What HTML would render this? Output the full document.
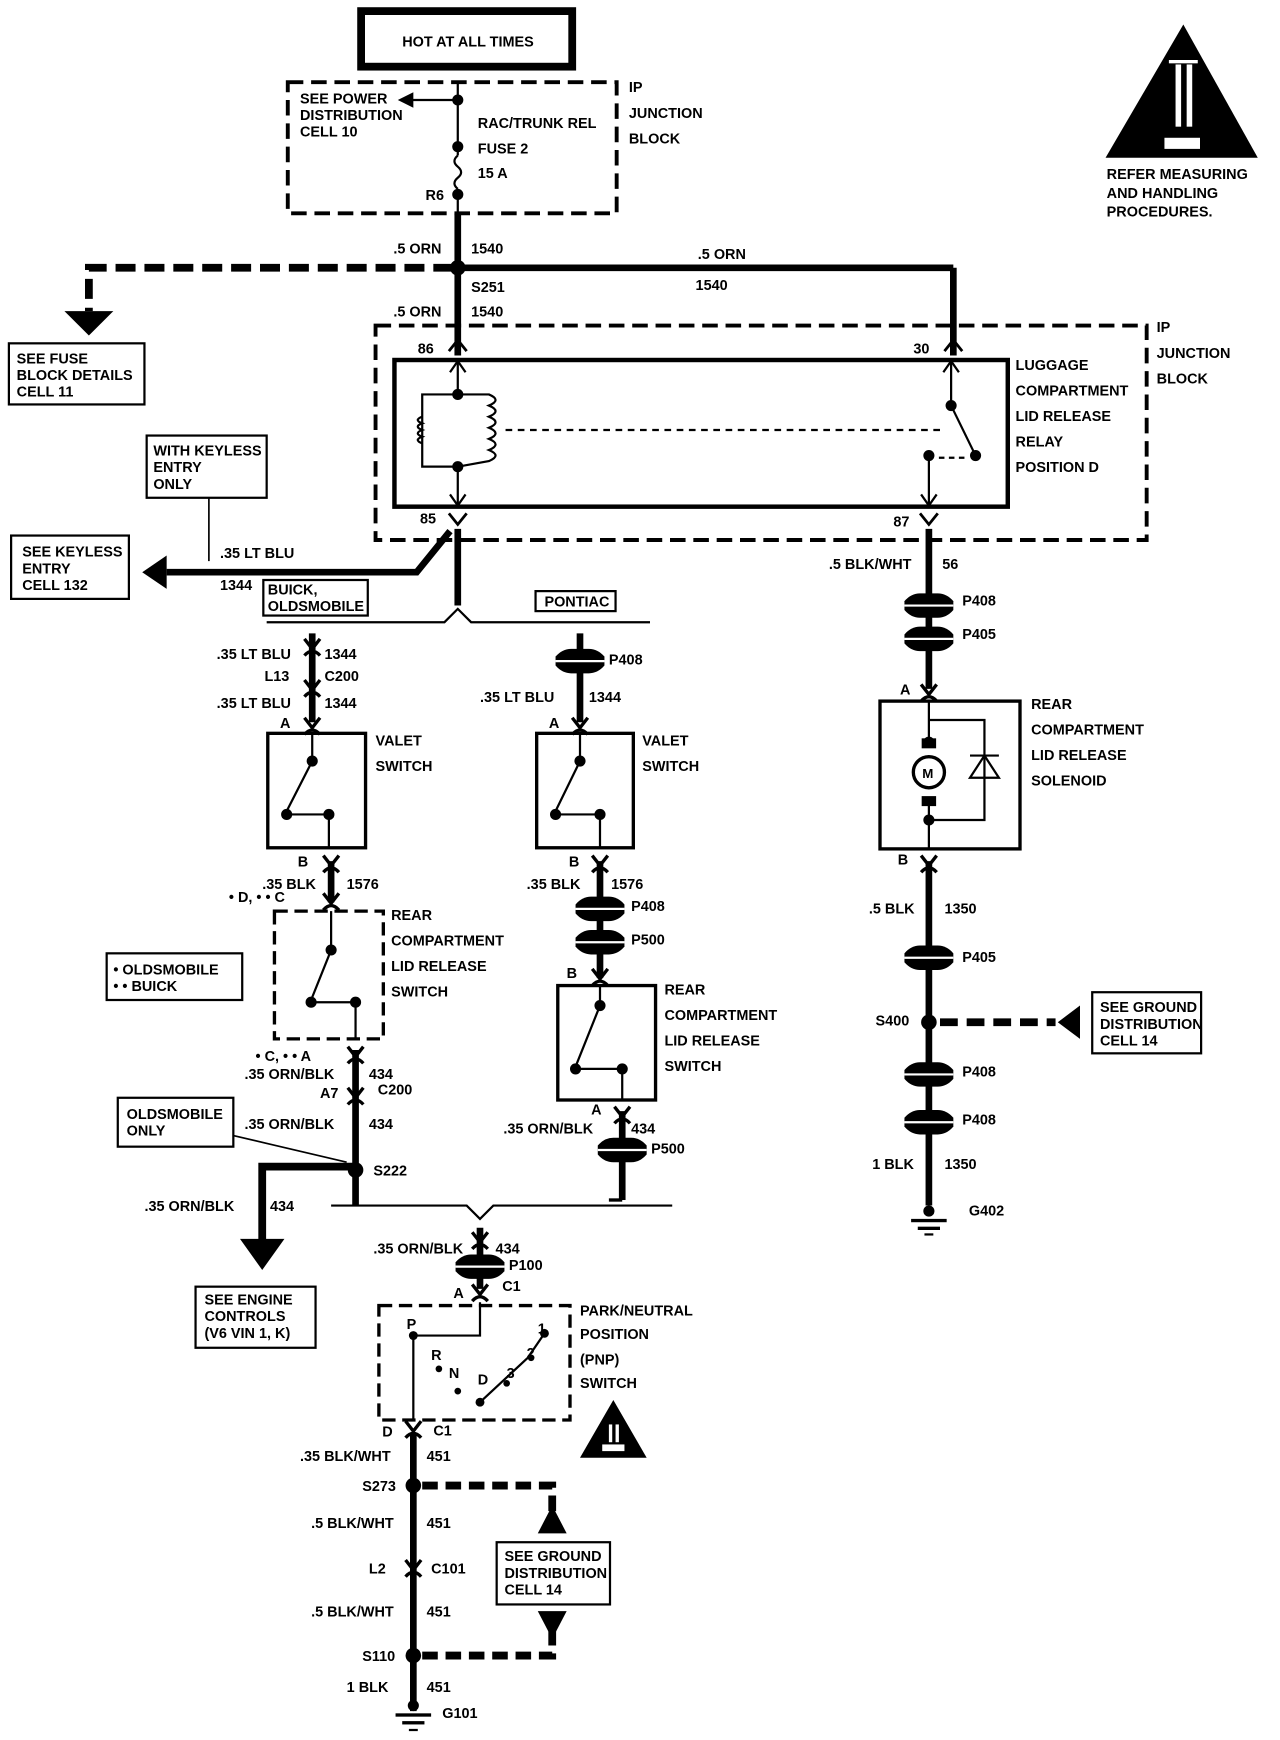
<!DOCTYPE html>
<html><head><meta charset="utf-8"><style>
html,body{margin:0;padding:0;background:#fff;}
svg{display:block}
text{font-family:"Liberation Sans Narrow","Liberation Sans",sans-serif;font-weight:bold;font-size:13px;fill:#000}
</style></head><body>
<svg width="1280" height="1740" viewBox="0 0 1152 1566" preserveAspectRatio="none" xmlns="http://www.w3.org/2000/svg">
<defs>
<g id="pill"><path d="M-22,-4 Q-16,-11 -8,-11 L8,-11 Q16,-11 22,-4 L22,4 Q16,11 8,11 L-8,11 Q-16,11 -22,4 Z" fill="#000"/><line x1="-22" y1="0" x2="22" y2="0" stroke="#fff" stroke-width="2"/></g>
<g id="fork"><path d="M-7,-6 L0,3 L7,-6" fill="none" stroke="#000" stroke-width="3"/><path d="M-7,9 Q0,1 7,9" fill="none" stroke="#000" stroke-width="3"/></g>
</defs>
<g stroke="#000" fill="none">
<rect x="325" y="10" width="190" height="50" stroke-width="7"/>
<rect x="259" y="74" width="296" height="118" stroke-width="3.5" stroke-dasharray="14,7"/>
<line x1="412" y1="74" x2="412" y2="140" stroke-width="2"/>
<path d="M412,140 q-6,5 0,10 q6,5 0,10 q-6,5 0,10" stroke-width="2"/>
<line x1="412" y1="170" x2="412" y2="192" stroke-width="2"/>
<line x1="412" y1="90" x2="370" y2="90" stroke-width="2"/>
<line x1="412" y1="192" x2="412" y2="320" stroke-width="6"/>
<line x1="412" y1="241" x2="858" y2="241" stroke-width="6"/>
<line x1="858" y1="241" x2="858" y2="320" stroke-width="6"/>
<path d="M408,241 L80,241 L80,280" stroke-width="7" stroke-dasharray="18,8"/>
<rect x="338" y="293" width="694" height="193" stroke-width="3.5" stroke-dasharray="14,7"/>
<rect x="355" y="324" width="552" height="132" stroke-width="4"/>
<line x1="412" y1="324" x2="412" y2="355" stroke-width="2"/>
<path d="M412,355 L380,355 L380,420 L412,420 L412,455" stroke-width="2"/>
<path d="M412,355 L440,355 q12,5 0,10 q12,5 0,10 q12,5 0,10 q12,5 0,10 q12,5 0,10 q12,5 0,10 L412,420" stroke-width="2"/>
<path d="M380,375 q-8,3 0,6 q-8,3 0,6 q-8,3 0,6 q-8,3 0,6" stroke-width="2"/>
<line x1="455" y1="387" x2="850" y2="387" stroke-width="2" stroke-dasharray="6,5"/>
<line x1="856" y1="324" x2="856" y2="365" stroke-width="2"/>
<line x1="856" y1="365" x2="878" y2="410" stroke-width="2"/>
<line x1="836" y1="410" x2="836" y2="455" stroke-width="2"/>
<line x1="845" y1="412" x2="870" y2="412" stroke-width="2" stroke-dasharray="5,4"/>
<path d="M405,335 L412,325 L419,335 M405,445 L412,455 L419,445 M849,335 L856,325 L863,335 M829,445 L836,455 L843,445" stroke-width="2"/>
<path d="M404,316 L412,306 L420,316 M850,316 L858,306 L866,316 M404,462 L412,472 L420,462 M828,462 L836,472 L844,462" stroke-width="2.5"/>
<path d="M412,476 L412,545" stroke-width="6"/>
<path d="M405,478 L375,515 L150,515" stroke-width="6"/>
<line x1="188" y1="448" x2="188" y2="505" stroke-width="1.5"/>
<path d="M240,560 L400,560 L412,548 L424,560 L585,560" stroke-width="2"/>
<line x1="281" y1="570" x2="281" y2="650" stroke-width="6"/>
<rect x="241" y="660" width="88" height="103" stroke-width="3"/>
<path d="M281,660 L281,685 L258,730 M262,733 L296,733 M296,733 L296,763" stroke-width="2"/>
<line x1="298" y1="775" x2="298" y2="812" stroke-width="6"/>
<rect x="247" y="820" width="98" height="115" stroke-width="3" stroke-dasharray="12,6"/>
<path d="M298,820 L298,855 L280,900 M283,902 L320,902 L320,935" stroke-width="2"/>
<line x1="320" y1="945" x2="320" y2="1085" stroke-width="6"/>
<path d="M320,1050 L236,1050 L236,1120" stroke-width="7"/>
<line x1="210" y1="1022" x2="312" y2="1046" stroke-width="1.5"/>
<path d="M298,1085 L420,1085 L432,1097 L444,1085 L605,1085" stroke-width="2"/>
<line x1="522" y1="570" x2="522" y2="650" stroke-width="6"/>
<rect x="483" y="660" width="87" height="103" stroke-width="3"/>
<path d="M522,660 L522,685 L500,730 M503,733 L540,733 L540,763" stroke-width="2"/>
<line x1="540" y1="775" x2="540" y2="880" stroke-width="6"/>
<rect x="502" y="887" width="88" height="103" stroke-width="3"/>
<path d="M540,887 L540,905 L518,960 M522,962 L560,962 L560,990" stroke-width="2"/>
<line x1="560" y1="1000" x2="560" y2="1080" stroke-width="6"/>
<path d="M560,1080 L548,1080" stroke-width="3"/>
<line x1="836" y1="476" x2="836" y2="620" stroke-width="6"/>
<rect x="792" y="631" width="126" height="133" stroke-width="3"/>
<path d="M836,631 L836,668 M836,722 L836,764 M836,648 L886,648 L886,738 L836,738" stroke-width="2"/>
<circle cx="836" cy="695" r="14" stroke-width="3"/>
<rect x="830" y="665" width="12" height="8" fill="#000"/><rect x="830" y="717" width="12" height="8" fill="#000"/>
<path d="M873,700 L899,700 L886,680 Z M873,680 L899,680" stroke-width="2"/>
<line x1="836" y1="775" x2="836" y2="1085" stroke-width="6"/>
<path d="M846,920 L950,920" stroke-width="7" stroke-dasharray="16,8"/>
<line x1="432" y1="1105" x2="432" y2="1160" stroke-width="6"/>
<rect x="341" y="1175" width="172" height="103" stroke-width="3" stroke-dasharray="12,6"/>
<path d="M432,1172 L432,1202 L372,1202 L372,1278 M432,1262 L475,1222 L490,1200" stroke-width="2"/>
<line x1="372" y1="1290" x2="372" y2="1540" stroke-width="6"/>
<path d="M380,1337 L497,1337 L497,1360 M380,1490 L497,1490 L497,1465" stroke-width="7" stroke-dasharray="14,7"/>
</g>
<g fill="#000">
<circle cx="412" cy="90" r="5"/><circle cx="412" cy="132" r="5"/><circle cx="412" cy="175" r="5"/><circle cx="412" cy="241" r="7"/>
<circle cx="412" cy="355" r="5"/><circle cx="412" cy="420" r="5"/><circle cx="856" cy="365" r="5"/><circle cx="878" cy="410" r="5"/><circle cx="836" cy="410" r="5"/>
<circle cx="281" cy="685" r="5"/><circle cx="258" cy="733" r="5"/><circle cx="296" cy="733" r="5"/>
<circle cx="522" cy="685" r="5"/><circle cx="500" cy="733" r="5"/><circle cx="540" cy="733" r="5"/>
<circle cx="298" cy="855" r="5"/><circle cx="280" cy="902" r="5"/><circle cx="320" cy="902" r="5"/>
<circle cx="540" cy="905" r="5"/><circle cx="518" cy="962" r="5"/><circle cx="560" cy="962" r="5"/>
<circle cx="836" cy="668" r="5"/><circle cx="836" cy="738" r="5"/>
<circle cx="836" cy="920" r="7"/><circle cx="320" cy="1053" r="7"/>
<circle cx="372" cy="1337" r="7"/><circle cx="372" cy="1490" r="7"/><circle cx="432" cy="1262" r="4"/><circle cx="372" cy="1202" r="4"/><circle cx="490" cy="1200" r="4"/><circle cx="395" cy="1232" r="3"/><circle cx="412" cy="1252" r="3"/><circle cx="456" cy="1245" r="3"/><circle cx="478" cy="1222" r="3"/>
<path d="M358,90 L372,83 L372,97 Z"/>
<path d="M58,280 L102,280 L80,302 Z"/>
<path d="M150,500 L150,530 L128,515 Z"/>
<path d="M216,1115 L256,1115 L236,1143 Z"/>
<path d="M972,905 L972,935 L952,920 Z"/>
<path d="M484,1380 L510,1380 L497,1355 Z"/><path d="M484,1450 L510,1450 L497,1475 Z"/>
<path d="M995,142 L1065,22 L1132,142 Z"/>
<path d="M522,1312 L552,1260 L582,1312 Z"/>
<rect x="356" y="1542" width="32" height="3"/><rect x="362" y="1549" width="20" height="3"/><rect x="368" y="1556" width="8" height="2"/>
<rect x="820" y="1097" width="32" height="3"/><rect x="826" y="1104" width="20" height="3"/><rect x="832" y="1110" width="8" height="2"/>
<circle cx="836" cy="1090" r="5"/><circle cx="372" cy="1535" r="5"/>
</g>
<g fill="#fff"><rect x="1058" y="58" width="5" height="56"/><rect x="1068" y="58" width="5" height="56"/><rect x="1052" y="54" width="26" height="3"/><rect x="1048" y="124" width="32" height="10"/><rect x="548" y="1282" width="3" height="16"/><rect x="554" y="1282" width="3" height="16"/><rect x="542" y="1300" width="20" height="6"/></g>
<use href="#pill" x="836" y="545"/><use href="#pill" x="836" y="575"/><use href="#pill" x="836" y="862"/><use href="#pill" x="836" y="967"/><use href="#pill" x="836" y="1010"/>
<use href="#pill" x="522" y="595"/><use href="#pill" x="540" y="818"/><use href="#pill" x="540" y="848"/><use href="#pill" x="560" y="1035"/><use href="#pill" x="432" y="1140"/>
<use href="#fork" x="281" y="581"/><use href="#fork" x="281" y="618"/><use href="#fork" x="281" y="652"/><use href="#fork" x="298" y="776"/><use href="#fork" x="298" y="810"/><use href="#fork" x="320" y="948"/><use href="#fork" x="320" y="985"/><use href="#fork" x="522" y="652"/><use href="#fork" x="540" y="776"/><use href="#fork" x="540" y="878"/><use href="#fork" x="560" y="1002"/><use href="#fork" x="836" y="622"/><use href="#fork" x="836" y="776"/><use href="#fork" x="432" y="1115"/><use href="#fork" x="432" y="1162"/><use href="#fork" x="372" y="1285"/><use href="#fork" x="372" y="1410"/>
<g fill="none" stroke="#000" stroke-width="2">
<rect x="8" y="309" width="122" height="55"/><rect x="132" y="392" width="108" height="56"/><rect x="10" y="482" width="106" height="57"/>
<rect x="237" y="522" width="94" height="32"/><rect x="482" y="532" width="72" height="18"/>
<rect x="96" y="858" width="122" height="42"/><rect x="106" y="988" width="104" height="44"/><rect x="176" y="1158" width="108" height="55"/>
<rect x="983" y="893" width="98" height="55"/><rect x="447" y="1388" width="102" height="56"/>
</g>
<text x="830" y="700" style="font-size:12px">M</text>
<text x="362" y="42">HOT AT ALL TIMES</text>
<text x="270" y="93">SEE POWER</text><text x="270" y="108">DISTRIBUTION</text><text x="270" y="123">CELL 10</text>
<text x="430" y="115">RAC/TRUNK REL</text><text x="430" y="138">FUSE 2</text><text x="430" y="160">15 A</text><text x="383" y="180">R6</text>
<text x="566" y="83">IP</text><text x="566" y="106">JUNCTION</text><text x="566" y="129">BLOCK</text>
<text x="996" y="161">REFER MEASURING</text><text x="996" y="178">AND HANDLING</text><text x="996" y="195">PROCEDURES.</text>
<text x="354" y="228">.5 ORN</text><text x="424" y="228">1540</text><text x="628" y="233">.5 ORN</text><text x="626" y="261">1540</text>
<text x="424" y="263">S251</text><text x="354" y="285">.5 ORN</text><text x="424" y="285">1540</text>
<text x="376" y="318">86</text><text x="822" y="318">30</text><text x="378" y="471">85</text><text x="804" y="474">87</text>
<text x="1041" y="299">IP</text><text x="1041" y="322">JUNCTION</text><text x="1041" y="345">BLOCK</text>
<text x="914" y="333">LUGGAGE</text><text x="914" y="356">COMPARTMENT</text><text x="914" y="379">LID RELEASE</text><text x="914" y="402">RELAY</text><text x="914" y="425">POSITION D</text>
<text x="15" y="327">SEE FUSE</text><text x="15" y="342">BLOCK DETAILS</text><text x="15" y="357">CELL 11</text>
<text x="138" y="410">WITH KEYLESS</text><text x="138" y="425">ENTRY</text><text x="138" y="440">ONLY</text>
<text x="20" y="501">SEE KEYLESS</text><text x="20" y="516">ENTRY</text><text x="20" y="531">CELL 132</text>
<text x="198" y="502">.35 LT BLU</text><text x="198" y="531">1344</text><text x="241" y="535">BUICK,</text><text x="241" y="550">OLDSMOBILE</text><text x="490" y="546">PONTIAC</text>
<text x="746" y="512">.5 BLK/WHT</text><text x="848" y="512">56</text>
<text x="866" y="545">P408</text><text x="866" y="575">P405</text>
<text x="195" y="593">.35 LT BLU</text><text x="292" y="593">1344</text><text x="238" y="613">L13</text><text x="292" y="613">C200</text><text x="195" y="637">.35 LT BLU</text><text x="292" y="637">1344</text>
<text x="548" y="598">P408</text><text x="432" y="632">.35 LT BLU</text><text x="530" y="632">1344</text>
<text x="252" y="655">A</text><text x="494" y="655">A</text><text x="810" y="625">A</text>
<text x="338" y="671">VALET</text><text x="338" y="694">SWITCH</text><text x="578" y="671">VALET</text><text x="578" y="694">SWITCH</text>
<text x="928" y="638">REAR</text><text x="928" y="661">COMPARTMENT</text><text x="928" y="684">LID RELEASE</text><text x="928" y="707">SOLENOID</text>
<text x="268" y="780">B</text><text x="512" y="780">B</text><text x="808" y="778">B</text>
<text x="236" y="800">.35 BLK</text><text x="312" y="800">1576</text><text x="206" y="812">• D, • • C</text>
<text x="474" y="800">.35 BLK</text><text x="550" y="800">1576</text><text x="568" y="820">P408</text><text x="568" y="850">P500</text>
<text x="782" y="822">.5 BLK</text><text x="850" y="822">1350</text><text x="866" y="866">P405</text>
<text x="352" y="828">REAR</text><text x="352" y="851">COMPARTMENT</text><text x="352" y="874">LID RELEASE</text><text x="352" y="897">SWITCH</text>
<text x="102" y="877">• OLDSMOBILE</text><text x="102" y="892">• • BUICK</text>
<text x="510" y="880">B</text>
<text x="598" y="895">REAR</text><text x="598" y="918">COMPARTMENT</text><text x="598" y="941">LID RELEASE</text><text x="598" y="964">SWITCH</text>
<text x="788" y="923">S400</text><text x="990" y="911">SEE GROUND</text><text x="990" y="926">DISTRIBUTION</text><text x="990" y="941">CELL 14</text>
<text x="230" y="955">• C, • • A</text><text x="220" y="971">.35 ORN/BLK</text><text x="332" y="971">434</text><text x="288" y="988">A7</text><text x="340" y="985">C200</text>
<text x="866" y="969">P408</text><text x="866" y="1012">P408</text>
<text x="114" y="1007">OLDSMOBILE</text><text x="114" y="1022">ONLY</text><text x="220" y="1016">.35 ORN/BLK</text><text x="332" y="1016">434</text>
<text x="532" y="1003">A</text><text x="453" y="1020">.35 ORN/BLK</text><text x="568" y="1020">434</text><text x="586" y="1038">P500</text>
<text x="336" y="1058">S222</text><text x="785" y="1052">1 BLK</text><text x="850" y="1052">1350</text>
<text x="130" y="1090">.35 ORN/BLK</text><text x="243" y="1090">434</text><text x="872" y="1094">G402</text>
<text x="336" y="1128">.35 ORN/BLK</text><text x="446" y="1128">434</text><text x="458" y="1143">P100</text><text x="408" y="1168">A</text><text x="452" y="1162">C1</text>
<text x="184" y="1174">SEE ENGINE</text><text x="184" y="1189">CONTROLS</text><text x="184" y="1204">(V6 VIN 1, K)</text>
<text x="522" y="1184">PARK/NEUTRAL</text><text x="522" y="1205">POSITION</text><text x="522" y="1228">(PNP)</text><text x="522" y="1249">SWITCH</text>
<text x="366" y="1196">P</text><text x="388" y="1224">R</text><text x="404" y="1240">N</text><text x="430" y="1246">D</text><text x="456" y="1240">3</text><text x="474" y="1222">2</text><text x="484" y="1200">1</text>
<text x="344" y="1293">D</text><text x="390" y="1292">C1</text><text x="270" y="1315">.35 BLK/WHT</text><text x="384" y="1315">451</text>
<text x="326" y="1342">S273</text><text x="280" y="1375">.5 BLK/WHT</text><text x="384" y="1375">451</text>
<text x="332" y="1416">L2</text><text x="388" y="1416">C101</text><text x="454" y="1405">SEE GROUND</text><text x="454" y="1420">DISTRIBUTION</text><text x="454" y="1435">CELL 14</text>
<text x="280" y="1455">.5 BLK/WHT</text><text x="384" y="1455">451</text><text x="326" y="1495">S110</text><text x="312" y="1523">1 BLK</text><text x="384" y="1523">451</text><text x="398" y="1546">G101</text>
</svg>
</body></html>
